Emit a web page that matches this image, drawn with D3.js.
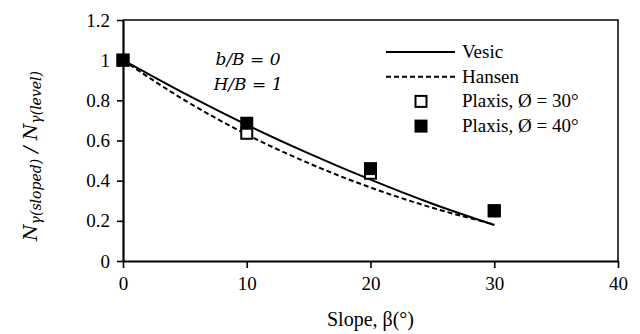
<!DOCTYPE html>
<html>
<head>
<meta charset="utf-8">
<script src="https://cdn.jsdelivr.net/npm/d3@7"></script>
<style>
  body { margin: 0; background: #fff; }
  svg { display: block; }
</style>
</head>
<body>
<div id="chart"></div>
<script>
// chart size
var svgWidth = 640;
var svgHeight = 334;

var margin = { top: 20, right: 22, bottom: 73, left: 123 };
var chartWidth = svgWidth - margin.left - margin.right;
var chartHeight = svgHeight - margin.top - margin.bottom;

var serif = "Liberation Serif";
var mathFont = "DejaVu Serif";

// data
var slope = [0, 5, 10, 15, 20, 25, 30];
var vesic = [1, 0.833, 0.678, 0.536, 0.405, 0.285, 0.179];
var hansen = [1, 0.800, 0.630, 0.487, 0.366, 0.265, 0.182];

var plaxisSlope = [0, 10, 20, 30];
var plaxis30 = [1, 0.636, 0.437, 0.25];
var plaxis40 = [1, 0.686, 0.46, 0.25];

var xTicks = [0, 10, 20, 30, 40];
var yTicks = [0, 0.2, 0.4, 0.6, 0.8, 1, 1.2];

var seriesNames = ["Vesic", "Hansen", "Plaxis, \u00d8 = 30\u00b0", "Plaxis, \u00d8 = 40\u00b0"];

var svg = d3.select("#chart")
  .append("svg")
  .attr("width", svgWidth)
  .attr("height", svgHeight);

var chartGroup = svg.append("g")
  .attr("transform", `translate(${margin.left}, ${margin.top})`);

var xLinearScale = d3.scaleLinear().domain([0, 40]).range([0, chartWidth]);
var yLinearScale = d3.scaleLinear().domain([0, 1.2]).range([chartHeight, 0]);

// top and right border
chartGroup.append("path")
  .attr("d", `M0,0 H${chartWidth} V${chartHeight}`)
  .attr("fill", "none")
  .attr("stroke", "#000")
  .attr("stroke-width", 1.5);

var bottomAxis = chartGroup.append("g")
  .attr("transform", `translate(0, ${chartHeight})`)
  .call(d3.axisBottom(xLinearScale).tickValues(xTicks).tickSize(7).tickPadding(9).tickSizeOuter(0));

var leftAxis = chartGroup.append("g")
  .call(d3.axisLeft(yLinearScale).tickValues(yTicks).tickSize(6).tickPadding(7).tickSizeOuter(0)
    .tickFormat(d => String(+d.toFixed(1))));

svg.selectAll(".domain").attr("stroke", "#000").attr("stroke-width", 2.2);
svg.selectAll(".tick line").attr("stroke", "#000").attr("stroke-width", 1.6);
svg.selectAll(".tick text")
  .style("font-family", serif)
  .style("font-size", "19px")
  .attr("fill", "#000");

// curves
var drawLine = d3.line()
  .x((d, i) => xLinearScale(slope[i]))
  .y(d => yLinearScale(d))
  .curve(d3.curveMonotoneX);

chartGroup.append("path")
  .attr("d", drawLine(vesic))
  .attr("fill", "none")
  .attr("stroke", "#000")
  .attr("stroke-width", 2);

chartGroup.append("path")
  .attr("d", drawLine(hansen))
  .attr("fill", "none")
  .attr("stroke", "#000")
  .attr("stroke-width", 2)
  .attr("stroke-dasharray", "5,3");

// plaxis markers
chartGroup.selectAll(".p30")
  .data(plaxis30)
  .enter()
  .append("rect")
  .attr("class", "p30")
  .attr("x", (d, i) => xLinearScale(plaxisSlope[i]) - 5.5)
  .attr("y", d => yLinearScale(d) - 5.5)
  .attr("width", 11)
  .attr("height", 11)
  .attr("fill", "#fff")
  .attr("stroke", "#000")
  .attr("stroke-width", 2);

chartGroup.selectAll(".p40")
  .data(plaxis40)
  .enter()
  .append("rect")
  .attr("class", "p40")
  .attr("x", (d, i) => xLinearScale(plaxisSlope[i]) - 6.5)
  .attr("y", d => yLinearScale(d) - 6.5)
  .attr("width", 13)
  .attr("height", 13)
  .attr("fill", "#000");

// legend
var legend = chartGroup.append("g")
  .attr("transform", "translate(263, 32)");

seriesNames.forEach(function(name, i) {
  var row = legend.append("g").attr("transform", `translate(0, ${i * 24.7})`);
  if (i < 2) {
    row.append("line")
      .attr("x1", 0).attr("x2", 69)
      .attr("stroke", "#000")
      .attr("stroke-width", 2)
      .attr("stroke-dasharray", i == 1 ? "5,3" : null);
  } else if (i == 2) {
    row.append("rect")
      .attr("x", 29.5).attr("y", -5.5).attr("width", 11).attr("height", 11)
      .attr("fill", "#fff").attr("stroke", "#000").attr("stroke-width", 2);
  } else {
    row.append("rect")
      .attr("x", 28.5).attr("y", -6.5).attr("width", 13).attr("height", 13)
      .attr("fill", "#000");
  }
  row.append("text")
    .attr("x", 76)
    .attr("y", 6)
    .style("font-family", serif)
    .style("font-size", "19px")
    .attr("fill", "#000")
    .text(name);
});

// annotation
var note = chartGroup.append("text")
  .style("font-family", mathFont)
  .style("font-style", "italic")
  .style("font-size", "17px")
  .attr("text-anchor", "middle")
  .attr("fill", "#000");
note.append("tspan").attr("x", 125).attr("y", 45).text("b/B = 0");
note.append("tspan").attr("x", 125).attr("y", 70).text("H/B = 1");

// axis titles
svg.append("text")
  .attr("x", margin.left + chartWidth / 2)
  .attr("y", 326)
  .attr("text-anchor", "middle")
  .style("font-family", serif)
  .style("font-size", "20px")
  .attr("fill", "#000")
  .text("Slope, \u03b2(\u00b0)");

var yLabel = svg.append("text")
  .attr("transform", "translate(37, 156) rotate(-90)")
  .attr("text-anchor", "middle")
  .style("font-family", mathFont)
  .style("font-style", "italic")
  .style("font-size", "19px")
  .attr("fill", "#000");
yLabel.append("tspan").text("N");
yLabel.append("tspan").style("font-size", "14px").attr("dy", 4).text("\u03b3(sloped)");
yLabel.append("tspan").attr("dy", -4).text(" / N");
yLabel.append("tspan").style("font-size", "14px").attr("dy", 4).text("\u03b3(level)");
</script>
</body>
</html>
